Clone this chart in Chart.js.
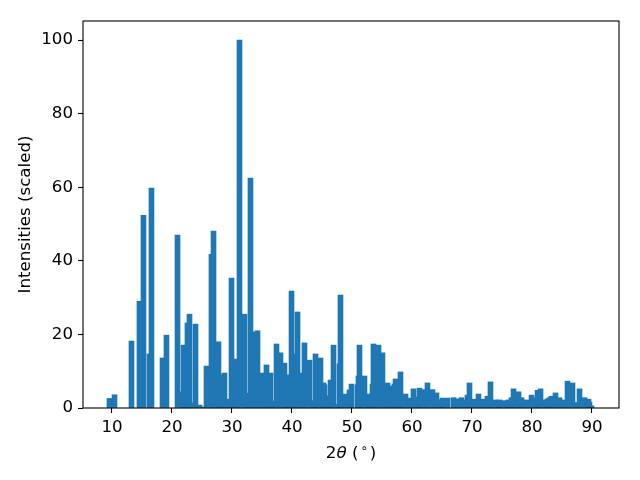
<!DOCTYPE html>
<html>
<head>
<meta charset="utf-8">
<script src="https://cdn.jsdelivr.net/npm/chart.js@4.4.1/dist/chart.umd.min.js"></script>
<style>
  html, body { margin: 0; padding: 0; background: #fff; }
  #wrap { width: 640px; height: 480px; }
</style>
</head>
<body>
<div id="wrap"><canvas id="xrdChart" width="640" height="480"></canvas></div>
<script>
// peak positions (2theta, degrees) and scaled intensities
var twoTheta = [
  9.58, 10.42, 13.25, 14.58, 15.25, 16.25, 16.58, 18.42, 19.08, 20.92,
  21.75, 21.92, 22.58, 22.92, 23.75, 23.92, 24.58, 25.25, 25.75, 26.58,
  26.92, 27.75, 27.92, 28.25, 28.75, 29.42, 29.75, 29.92, 30.58, 30.75,
  31.25, 32.08, 32.75, 32.92, 33.08, 33.92, 34.25, 34.92, 35.42, 35.75,
  36.42, 36.75, 37.42, 38.08, 38.75, 38.92, 39.42, 39.58, 39.92, 40.75,
  40.92, 41.75, 42.08, 42.92, 43.58, 43.75, 43.92, 44.75, 45.25, 45.42,
  45.92, 46.08, 46.42, 46.92, 47.75, 47.92, 48.08, 48.92, 49.58, 49.92,
  50.92, 51.08, 51.25, 52.08, 52.75, 52.92, 53.42, 53.58, 54.42, 55.08,
  55.75, 55.92, 56.75, 56.92, 57.08, 57.25, 57.92, 58.08, 58.92, 59.75,
  60.25, 61.08, 61.25, 62.08, 62.58, 63.42, 64.08, 64.75, 65.08, 65.92,
  66.92, 67.58, 68.25, 68.92, 69.25, 69.58, 70.42, 71.08, 71.92, 72.58,
  73.08, 73.92, 74.42, 74.58, 75.25, 75.92, 76.08, 76.58, 76.92, 77.75,
  78.25, 79.08, 79.92, 80.58, 80.92, 81.42, 82.25, 82.58, 82.92, 83.25,
  83.92, 84.58, 85.25, 85.92, 86.75, 87.58, 87.92, 88.75, 89.42, 89.58,
  89.92
];
var intensity = [
  2.6, 3.6, 18.2, 29, 52.4, 14.7, 59.8, 13.6, 19.8, 47,
  4.4, 17.1, 23.1, 25.5, 1.4, 22.8, 0.8, 0.3, 11.4, 41.8,
  48.1, 18, 1.5, 9, 9.5, 2.4, 0.5, 35.3, 13.3, 7.9,
  100, 25.5, 2.5, 4, 62.5, 20.7, 21, 9.5, 2, 11.7,
  9.5, 1.9, 17.4, 15, 12.2, 8.7, 4.1, 9, 31.8, 14.7,
  26.1, 9.5, 17.7, 13, 2, 1.6, 14.7, 13.6, 6.8, 6.3,
  3.3, 3.0, 7.6, 17.1, 1, 12, 30.7, 3.8, 4.9, 6.5,
  6.3, 8.7, 17.1, 8.7, 2.7, 3.8, 6.5, 17.4, 17.1, 15,
  1.6, 6.8, 6, 2.7, 6.5, 7.9, 1, 9.8, 3.8, 2.7,
  5.2, 3, 5.4, 5, 6.8, 5, 4.1, 2.2, 2.7, 2.7,
  2.8, 2.5, 2.8, 2.2, 3.5, 6.8, 2.4, 3.8, 2.4, 3.2,
  7.1, 2.2, 1.5, 2.2, 2.0, 1.1, 2.2, 2.8, 5.2, 4.4,
  2.8, 2.2, 3.5, 2.8, 4.8, 5.2, 2.2, 2.5, 2.8, 3.2,
  4.1, 2.8, 2.2, 7.3, 6.8, 1.5, 5.2, 2.8, 2.4, 1.6,
  0.6
];
var xTicks = [10, 20, 30, 40, 50, 60, 70, 80, 90];
var yTicks = [0, 20, 40, 60, 80, 100];

var FONT = 'DejaVu Sans';
var FS = 16.67;
Chart.defaults.color = '#000';
Chart.defaults.font.family = FONT;
Chart.defaults.font.size = FS;

// matplotlib style box around the axes
var framePlugin = {
  id: 'frame',
  afterDatasetsDraw: function(chart) {
    var a = chart.chartArea, ctx = chart.ctx;
    ctx.save();
    ctx.strokeStyle = '#000';
    ctx.lineWidth = 1.1;
    ctx.strokeRect(a.left, a.top, a.right - a.left, a.bottom - a.top);
    ctx.restore();
  }
};

// x label "2θ (°)" with italic theta and raised circle
var xLabelPlugin = {
  id: 'xlabel',
  afterDraw: function(chart) {
    var a = chart.chartArea, ctx = chart.ctx;
    var normal = FS + 'px "' + FONT + '"';
    var italic = 'italic ' + FS + 'px "' + FONT + '"';
    var small = (FS * 0.7) + 'px "' + FONT + '"';
    var parts = [
      { t: '2', f: normal, dy: 0, gap: 0 },
      { t: 'θ', f: italic, dy: 0, gap: 0 },
      { t: ' (', f: normal, dy: 0, gap: 2 },
      { t: '∘', f: small, dy: -6, gap: 2 },
      { t: ')', f: normal, dy: 0, gap: 0 }
    ];
    ctx.save();
    var total = 0;
    parts.forEach(function(p) {
      ctx.font = p.f;
      p.w = ctx.measureText(p.t).width;
      total += p.w + p.gap;
    });
    var x = (a.left + a.right) / 2 - total / 2;
    var y = 458;
    ctx.fillStyle = '#000';
    ctx.textBaseline = 'alphabetic';
    parts.forEach(function(p) {
      ctx.font = p.f;
      ctx.fillText(p.t, x, y + p.dy);
      x += p.w + p.gap;
    });
    ctx.restore();
  }
};

var points = twoTheta.map(function(t, i) { return { x: t, y: intensity[i] }; });

new Chart(document.getElementById('xrdChart').getContext('2d'), {
  type: 'bar',
  data: {
    datasets: [{
      data: points,
      backgroundColor: '#1f77b4',
      borderWidth: 0,
      barThickness: 5
    }]
  },
  options: {
    responsive: false,
    devicePixelRatio: 1,
    animation: false,
    layout: { padding: { top: 21, right: 21, left: 0, bottom: 0 } },
    plugins: { legend: { display: false }, tooltip: { enabled: false } },
    scales: {
      x: {
        type: 'linear',
        min: 5.17,
        max: 94.5,
        offset: false,
        afterFit: function(scale) { scale.height = 72; },
        afterBuildTicks: function(scale) {
          scale.ticks = xTicks.map(function(v) { return { value: v }; });
        },
        ticks: { padding: 5, maxRotation: 0, autoSkip: false, color: '#000' },
        grid: { offset: false, drawOnChartArea: false, drawTicks: true, tickLength: 5, color: '#000', tickWidth: 1.1 },
        border: { display: false }
      },
      y: {
        min: 0,
        max: 105.2,
        afterFit: function(scale) { scale.width = 83; },
        afterBuildTicks: function(scale) {
          scale.ticks = yTicks.map(function(v) { return { value: v }; });
        },
        ticks: { padding: 5, color: '#000' },
        grid: { drawOnChartArea: false, drawTicks: true, tickLength: 5, color: '#000', tickWidth: 1.1 },
        border: { display: false },
        title: {
          display: true,
          text: 'Intensities (scaled)',
          color: '#000',
          font: { size: FS, family: FONT },
          padding: { top: 16, bottom: 0 }
        }
      }
    }
  },
  plugins: [framePlugin, xLabelPlugin]
});
</script>
</body>
</html>
